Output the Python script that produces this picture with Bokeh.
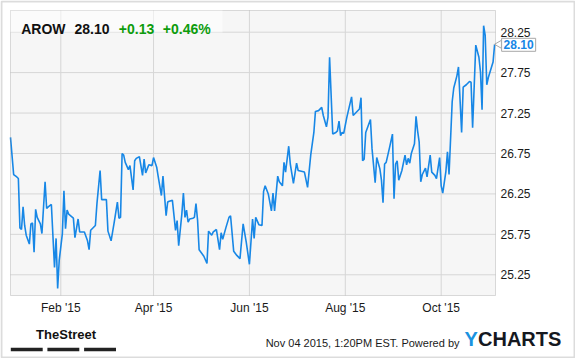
import math
import pandas as pd
from bokeh.plotting import figure
from bokeh.models import (Range1d, FixedTicker, PrintfTickFormatter, DatetimeTickFormatter,
                          Label, BoxAnnotation, LinearAxis, DatetimeAxis)
from bokeh.embed import file_html
from bokeh.resources import INLINE

TICKER = "AROW"
CHANGE = 0.13
CHANGE_PCT = 0.46
AS_OF = "2015-11-04 13:20"
FOOTER = "Nov 04 2015, 1:20PM EST. Powered by"

# days after 2015-01-01 and closing prices
DAY = [-1, 1, 3, 4, 5, 6, 7, 8, 9, 11, 12, 13, 14, 15, 16, 18, 19, 21, 22, 23,
       25, 27, 28, 29, 30, 32, 33, 34, 35, 36, 39, 40, 42, 43, 46, 48, 49, 50, 53, 54,
       56, 57, 60, 61, 63, 65, 67, 68, 69, 70, 71, 72, 74, 75, 77, 78, 79, 81, 83, 84,
       85, 86, 87, 89, 90, 92, 93, 95, 96, 98, 99, 100, 102, 104, 105, 106, 108, 109, 110, 111,
       112, 113, 115, 116, 117, 118, 119, 122, 124, 125, 127, 128, 130, 132, 133, 134, 136, 138, 139, 141,
       143, 145, 147, 149, 151, 153, 154, 155, 157, 159, 160, 161, 163, 165, 166, 167, 169, 170, 172, 173,
       174, 176, 177, 179, 181, 182, 184, 186, 188, 190, 192, 193, 195, 197, 198, 200, 201, 202, 204, 206,
       207, 208, 209, 210, 211, 213, 216, 217, 219, 221, 222, 223, 224, 225, 228, 229, 231, 232, 234, 235,
       236, 237, 238, 240, 242, 243, 244, 245, 246, 248, 250, 251, 252, 253, 254, 256, 257, 258, 259, 260,
       261, 263, 264, 266, 267, 269, 270, 272, 273, 274, 276, 277, 278, 280, 281, 283, 284, 286, 287, 289,
       291, 292, 293, 295, 297, 298, 299, 300, 301, 302, 303, 306, 307]
PRICE = [26.95, 26.49, 26.46, 26.44, 25.83, 25.81, 26.09, 25.86, 25.74, 25.63, 25.88, 25.89, 25.53, 26.06, 25.96, 25.88, 25.76, 26.40, 26.07, 26.09,
         26.12, 25.34, 25.70, 25.08, 25.43, 25.76, 26.29, 25.82, 26.05, 26.00, 25.95, 25.71, 25.94, 25.78, 25.78, 25.67, 25.56, 25.80, 25.86, 26.13,
         26.54, 26.18, 26.18, 25.79, 25.67, 25.90, 26.15, 25.95, 25.96, 26.75, 26.73, 26.64, 26.55, 26.60, 26.30, 26.66, 26.69, 26.71, 26.48, 26.68,
         26.51, 26.56, 26.61, 26.60, 26.70, 26.58, 26.46, 26.23, 26.47, 25.98, 26.15, 26.16, 26.17, 25.80, 25.92, 25.61, 26.00, 26.26, 25.96, 26.05,
         25.90, 25.94, 25.95, 25.96, 26.13, 25.93, 25.56, 25.48, 25.39, 25.79, 25.74, 25.78, 25.81, 25.56, 25.77, 25.69, 25.83, 25.96, 25.98, 25.54,
         25.49, 25.45, 25.88, 25.65, 25.38, 25.94, 25.70, 25.96, 25.87, 25.86, 26.28, 26.35, 26.25, 26.04, 26.26, 26.04, 26.47, 26.40, 26.35, 26.64,
         26.52, 26.84, 26.62, 26.38, 26.63, 26.54, 26.53, 26.52, 26.33, 26.73, 27.01, 27.27, 27.28, 27.32, 27.22, 27.08, 27.20, 27.94, 26.99, 27.01,
         27.03, 27.15, 26.97, 27.01, 27.00, 27.20, 27.45, 27.22, 27.26, 27.30, 27.44, 26.66, 26.68, 27.01, 27.17, 26.81, 26.39, 26.70, 26.56, 26.42,
         26.14, 26.62, 26.64, 26.81, 26.99, 26.19, 26.62, 26.66, 26.42, 26.54, 26.73, 26.61, 26.69, 26.63, 26.75, 26.87, 27.21, 27.03, 26.89, 26.40,
         26.49, 26.57, 26.46, 26.73, 26.52, 26.48, 26.44, 26.70, 26.35, 26.26, 26.53, 26.77, 26.49, 27.39, 27.56, 27.71, 27.82, 27.01, 27.57, 27.60,
         27.64, 27.63, 27.07, 28.09, 27.94, 27.76, 27.29, 28.33, 28.21, 27.60, 27.69, 27.88, 28.10]

Y_TICKS = [25.25, 25.75, 26.25, 26.75, 27.25, 27.75, 28.25]
X_TICK_DATES = ["2015-02-01", "2015-04-01", "2015-06-01", "2015-08-01", "2015-10-01"]
X_TICK_LABELS = ["Feb '15", "Apr '15", "Jun '15", "Aug '15", "Oct '15"]

Y_MIN, Y_MAX = 24.994, 28.518

# canvas / plotting-area geometry (pixels)
W, H = 575, 358
ML, MT, MR, MB = 10, 10, 80, 63
FW, FH = W - ML - MR, H - MT - MB

FONT = "Liberation Sans"
LINE_BLUE = "#1787e6"
GREEN = "#0d9c0d"
GRID = "#d6d6d6"


def ms(t):
    return pd.Timestamp(t).value / 1e6


dates = pd.Timestamp("2015-01-01") + pd.to_timedelta(DAY, unit="D")
x0, x1 = ms(dates[0]), ms(AS_OF)
kx = (x1 - x0) / FW          # data units per pixel
ky = (Y_MAX - Y_MIN) / FH

p = figure(width=W, height=H, x_axis_location=None, y_axis_location=None,
           x_range=Range1d(x0 - ML * kx, x1 + MR * kx),
           y_range=Range1d(Y_MIN - MB * ky, Y_MAX + MT * ky),
           output_backend="svg", toolbar_location=None,
           min_border=0)
p.background_fill_color = "white"
p.border_fill_color = "white"
p.outline_line_color = None
p.grid.visible = False

# plotting area background
p.add_layout(BoxAnnotation(left=x0, right=x1, bottom=Y_MIN, top=Y_MAX, level="underlay",
                           fill_color="#f6f6f6", fill_alpha=1, line_color=None))

tick_ms = [ms(d) for d in X_TICK_DATES]
# grid lines at tick values
p.segment(x0=tick_ms, y0=Y_MIN, x1=tick_ms, y1=Y_MAX, line_color=GRID, line_width=1)
p.segment(x0=x0, y0=Y_TICKS, x1=x1, y1=Y_TICKS, line_color=GRID, line_width=1)

# price line
p.line(dates, PRICE, line_color=LINE_BLUE, line_width=1.6)

# plotting area outline
p.add_layout(BoxAnnotation(left=x0, right=x1, bottom=Y_MIN, top=Y_MAX,
                           fill_color=None, line_color="#8a8a8a", line_width=1))

xa = DatetimeAxis(fixed_location=Y_MIN, ticker=FixedTicker(ticks=tick_ms),
                  formatter=DatetimeTickFormatter(months="%b '%y", days="%b '%y", years="%b '%y"))
xa.major_label_overrides = {t: lab for t, lab in zip(tick_ms, X_TICK_LABELS)}
ya = LinearAxis(fixed_location=x1, ticker=FixedTicker(ticks=Y_TICKS),
                formatter=PrintfTickFormatter(format="%.2f"))
for ax in (xa, ya):
    ax.axis_line_color = None
    ax.major_tick_line_color = None
    ax.minor_tick_line_color = None
    ax.major_tick_out = 0
    ax.major_tick_in = 0
    ax.minor_tick_out = 0
    ax.major_label_text_font = FONT
    ax.major_label_text_font_size = "12px"
    ax.major_label_text_color = "#1a1a1a"
    ax.major_label_standoff = 5
p.add_layout(xa, "below")
p.add_layout(ya, "right")

SCR = dict(left_units="screen", right_units="screen", top_units="screen", bottom_units="screen")

# title strip
p.add_layout(BoxAnnotation(left=ML, right=222, bottom=H - 32, top=H - MT, **SCR,
                           fill_color="white", fill_alpha=0.55, line_color=None))
last = PRICE[-1]
title_parts = [(TICKER, "#111111", 20.7), (f"{last:.2f}", "#111111", 74),
               (f"{CHANGE:+.2f}", GREEN, 118.3), (f"{CHANGE_PCT:+.2f}%", GREEN, 162.3)]
for txt, col, sx in title_parts:
    p.add_layout(Label(x=sx, y=H - 28.3, x_units="screen", y_units="screen", text=txt,
                       text_font=FONT, text_font_size="14px", text_font_style="bold",
                       text_color=col, text_baseline="alphabetic"))

# last value callout: small pointer plus boxed label next to the last point
lx, ly = ms(dates[-1]), last
p.scatter(x=[lx + 4.5 * kx], y=[ly], marker="triangle", angle=math.pi / 2, size=8,
          fill_color="white", line_color="#a8a8a8", line_width=1)
p.add_layout(Label(x=lx + 24 * kx, y=ly - 0.5 * ky,
                   text=f"{last:.2f}", text_font=FONT, text_font_size="12px",
                   text_font_style="bold", text_color=LINE_BLUE,
                   text_align="center", text_baseline="middle",
                   background_fill_color="white", border_line_color="#a8a8a8",
                   border_line_width=1, padding=2))

# footer
p.add_layout(Label(x=35.6, y=H - 341.7, x_units="screen", y_units="screen", text="TheStreet",
                   text_font=FONT, text_font_size="13px",
                   text_font_style="bold", text_color="#111111"))
for l, r in [(10.3, 42.2), (46.9, 78.8), (83.6, 115.5)]:
    p.add_layout(BoxAnnotation(left=l, right=r, bottom=H - 350.7, top=H - 347.3, **SCR,
                               fill_color="#222222", fill_alpha=1, line_color=None))
p.add_layout(Label(x=459, y=H - 348.5, x_units="screen", y_units="screen", text=FOOTER,
                   text_font=FONT, text_font_size="11px", text_color="#1a1a1a",
                   text_align="right"))
p.add_layout(Label(x=464, y=H - 349.3, x_units="screen", y_units="screen", text="Y",
                   text_font=FONT, text_font_size="20px", text_font_style="bold",
                   text_color="#1a93e0"))
p.add_layout(Label(x=477.5, y=H - 349.3, x_units="screen", y_units="screen", text="CHARTS",
                   text_font=FONT, text_font_size="20px", text_font_style="bold",
                   text_color="#15181f"))

# outer border
p.add_layout(BoxAnnotation(left=1, right=W - 1, bottom=1, top=H - 1, **SCR,
                           fill_color=None, line_color="#8c8c8c", line_width=2))

open("out.html", "w").write(file_html(p, INLINE))
